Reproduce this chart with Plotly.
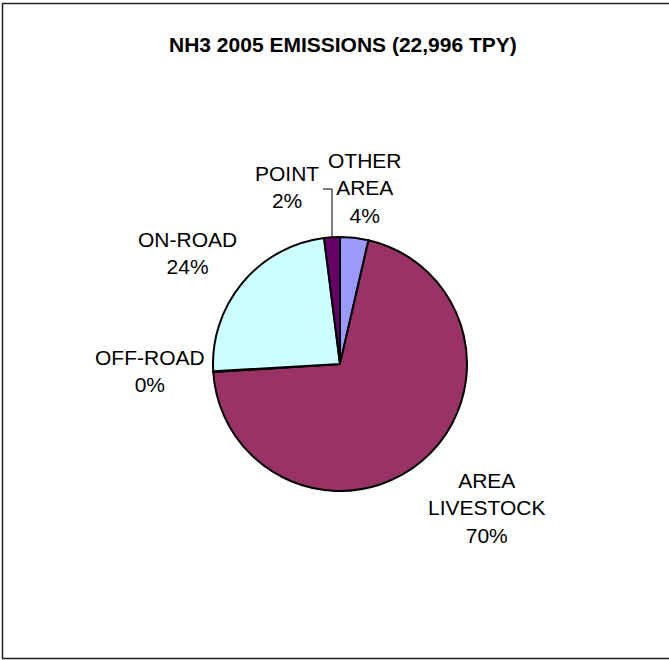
import math
import plotly.graph_objects as go

# NH3 emissions by source category, 2005 (tons per year)
categories = ["OTHER AREA", "AREA LIVESTOCK", "OFF-ROAD", "ON-ROAD", "POINT"]
emissions_tpy = [828, 16190, 20, 5498, 460]
slice_colors = ["#9999FF", "#993366", "#FFFFCC", "#CCFFFF", "#660066"]

W, H = 669, 660
total = sum(emissions_tpy)

# pie placement (pixels): centre and radius
cx, cy, r = 340, 364, 127


def px(x):
    return x / W


def py(y):
    return 1 - y / H


fig = go.Figure(
    go.Pie(
        labels=categories,
        values=emissions_tpy,
        sort=False,
        direction="clockwise",
        rotation=0,
        marker=dict(colors=slice_colors, line=dict(color="#000000", width=2)),
        textinfo="none",
        hoverinfo="label+value+percent",
        showlegend=False,
        domain=dict(x=[px(cx - r), px(cx + r)], y=[py(cy + r), py(cy - r)]),
    )
)

# label anchor points (pixels) for each category
label_pos = {
    "OTHER AREA": (365, 188),
    "AREA LIVESTOCK": (487, 508),
    "OFF-ROAD": (150, 371),
    "ON-ROAD": (187, 253),
    "POINT": (287, 187),
}

font_main = "Liberation Sans, Arial, sans-serif"
annotations = []
for name, val in zip(categories, emissions_tpy):
    share = val / total
    text = name.replace(" ", "<br>") + "<br>" + f"{round(share * 100):.0f}%"
    x, y = label_pos[name]
    annotations.append(
        dict(
            x=px(x), y=py(y), xref="paper", yref="paper",
            text=text, showarrow=False, align="center",
            xanchor="center", yanchor="middle",
            font=dict(family=font_main, size=21, color="#000000"),
        )
    )

annotations.append(
    dict(
        x=px(343), y=py(45), xref="paper", yref="paper",
        text="<b>NH3 2005 EMISSIONS (22,996 TPY)</b>", showarrow=False,
        xanchor="center", yanchor="middle",
        font=dict(family=font_main, size=21, color="#000000"),
    )
)

# leader line from the POINT slice edge up to its label
cum = 0.0
mid_angle = {}
for name, val in zip(categories, emissions_tpy):
    mid_angle[name] = (cum + val / 2) / total * 2 * math.pi
    cum += val
theta = mid_angle["POINT"]
ex, ey = cx + r * math.sin(theta), cy - r * math.cos(theta)
leader = f"M {px(323)},{py(189)} L {px(ex)},{py(189)} L {px(ex)},{py(ey)}"

shapes = [
    dict(type="path", path=leader, xref="paper", yref="paper",
         line=dict(color="#000000", width=1)),
    dict(type="rect", xref="paper", yref="paper",
         x0=px(2.5), x1=1.02, y0=py(658.5), y1=py(3.5),
         line=dict(color="#222222", width=1.5), fillcolor="rgba(0,0,0,0)"),
]

fig.update_layout(
    width=W, height=H,
    margin=dict(l=0, r=0, t=0, b=0),
    paper_bgcolor="#FFFFFF",
    plot_bgcolor="#FFFFFF",
    annotations=annotations,
    shapes=shapes,
)

fig.write_html("out.html")
